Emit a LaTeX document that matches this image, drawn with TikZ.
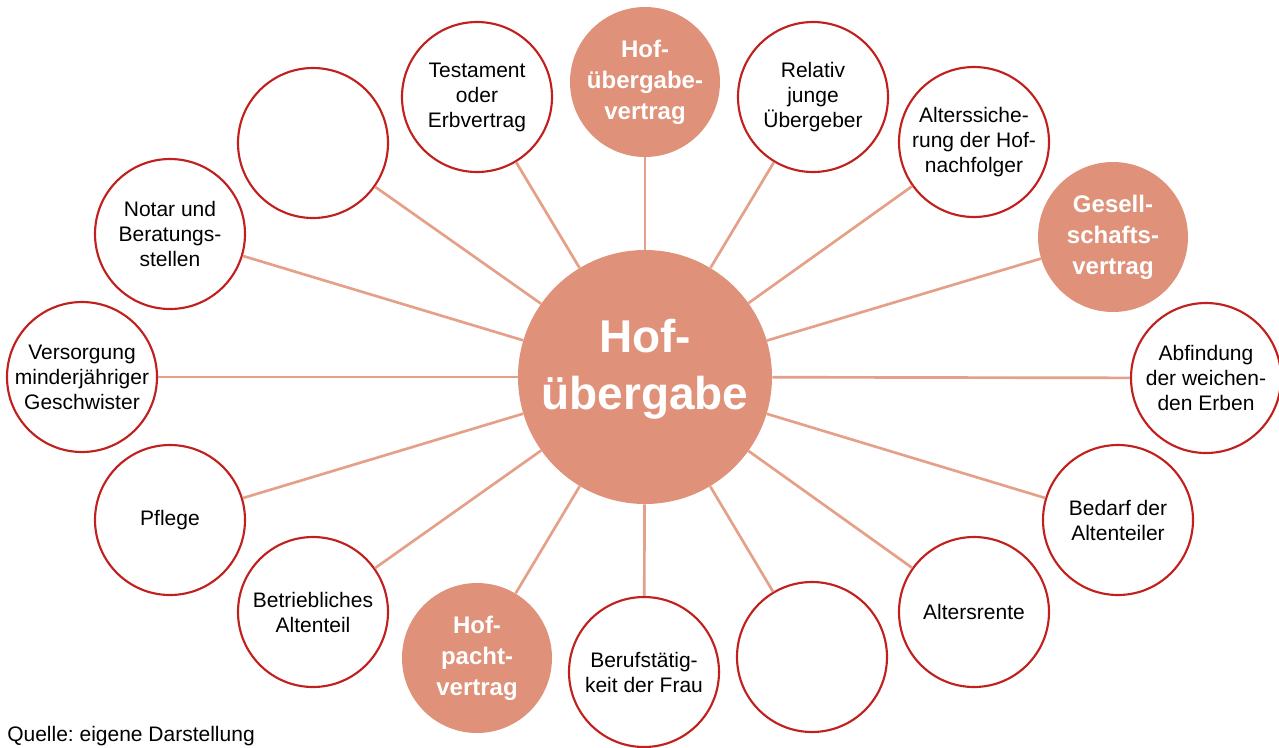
\documentclass[tikz,border=0pt]{standalone}
\usepackage{fontspec}
\setmainfont{Liberation Sans}
\usepackage{xcolor}
\usetikzlibrary{positioning}
\frenchspacing

\definecolor{hofsalmon}{RGB}{224,145,121}
\definecolor{hofred}{RGB}{192,33,30}
\definecolor{hofspoke}{RGB}{228,160,136}

\begin{document}
\begin{tikzpicture}[x=0.75pt, y=-0.75pt,
    hub/.style={circle, fill=hofsalmon, minimum size=190.5pt, inner sep=0pt},
    topic/.style={circle, draw=hofred, line width=1.6pt, fill=white, minimum size=112.5pt, inner sep=0pt},
    keytopic/.style={circle, fill=hofsalmon, minimum size=112.5pt, inner sep=0pt},
    spoke/.style={draw=hofspoke, line width=2pt},
    txt/.style={font=\fontsize{15.75}{18.75}\selectfont, align=center, inner sep=0pt},
    keytxt/.style={font=\bfseries\fontsize{18}{23.25}\selectfont, align=center, text=white, inner sep=0pt},
    hubtxt/.style={font=\bfseries\fontsize{34.5}{42.75}\selectfont, align=center, text=white, inner sep=0pt}]
    \useasboundingbox (0,0) rectangle (1279,747);

    % Centre
    \node[hub, label={[hubtxt, yshift=6pt]center:Hof-\\übergabe}] (hof) at (645,377) {};

    % Ring of topics, clockwise from the top
    \node[keytopic, label={[keytxt]center:Hof-\\übergabe-\\vertrag}] (uevertrag) at (645,82) {};
    \node[topic, label={[txt]center:Relativ\\junge\\Übergeber}] (relativ) at (813,97) {};
    \node[topic, label={[txt]center:Alterssiche-\\rung der Hof-\\nachfolger}] (sicherung) at (974,142) {};
    \node[keytopic, label={[keytxt]center:Gesell-\\schafts-\\vertrag}] (gesell) at (1113,237) {};
    \node[topic, label={[txt]center:Abfindung\\der weichen-\\den Erben}] (abfindung) at (1206,378) {};
    \node[topic, label={[txt]center:Bedarf der\\Altenteiler}] (bedarf) at (1118,520) {};
    \node[topic, label={[txt]center:Altersrente}] (rente) at (974,612) {};
    \node[topic] (leerunten) at (812,657) {};
    \node[topic, label={[txt]center:Berufstätig-\\keit der Frau}] (beruf) at (644,672) {};
    \node[keytopic, label={[keytxt]center:Hof-\\pacht-\\vertrag}] (pacht) at (477,658) {};
    \node[topic, label={[txt]center:Betriebliches\\Altenteil}] (betrieb) at (313,612) {};
    \node[topic, label={[txt]center:Pflege}] (pflege) at (170,520) {};
    \node[topic, label={[txt]center:Versorgung\\minderjähriger\\Geschwister}] (versorgung) at (82,377) {};
    \node[topic, label={[txt]center:Notar und\\Beratungs-\\stellen}] (notar) at (170,234) {};
    \node[topic] (leeroben) at (313,143) {};
    \node[topic, label={[txt]center:Testament\\oder\\Erbvertrag}] (testament) at (477,97) {};

    % Spokes from the centre
    \foreach \n in {uevertrag, relativ, sicherung, gesell, abfindung, bedarf, rente, leerunten,
                    beruf, pacht, betrieb, pflege, versorgung, notar, leeroben, testament}
        \draw[spoke] (hof) -- (\n);

    % Source line
    \node[txt, anchor=base west] (quelle) at (7,741) {Quelle: eigene Darstellung};
\end{tikzpicture}
\end{document}
